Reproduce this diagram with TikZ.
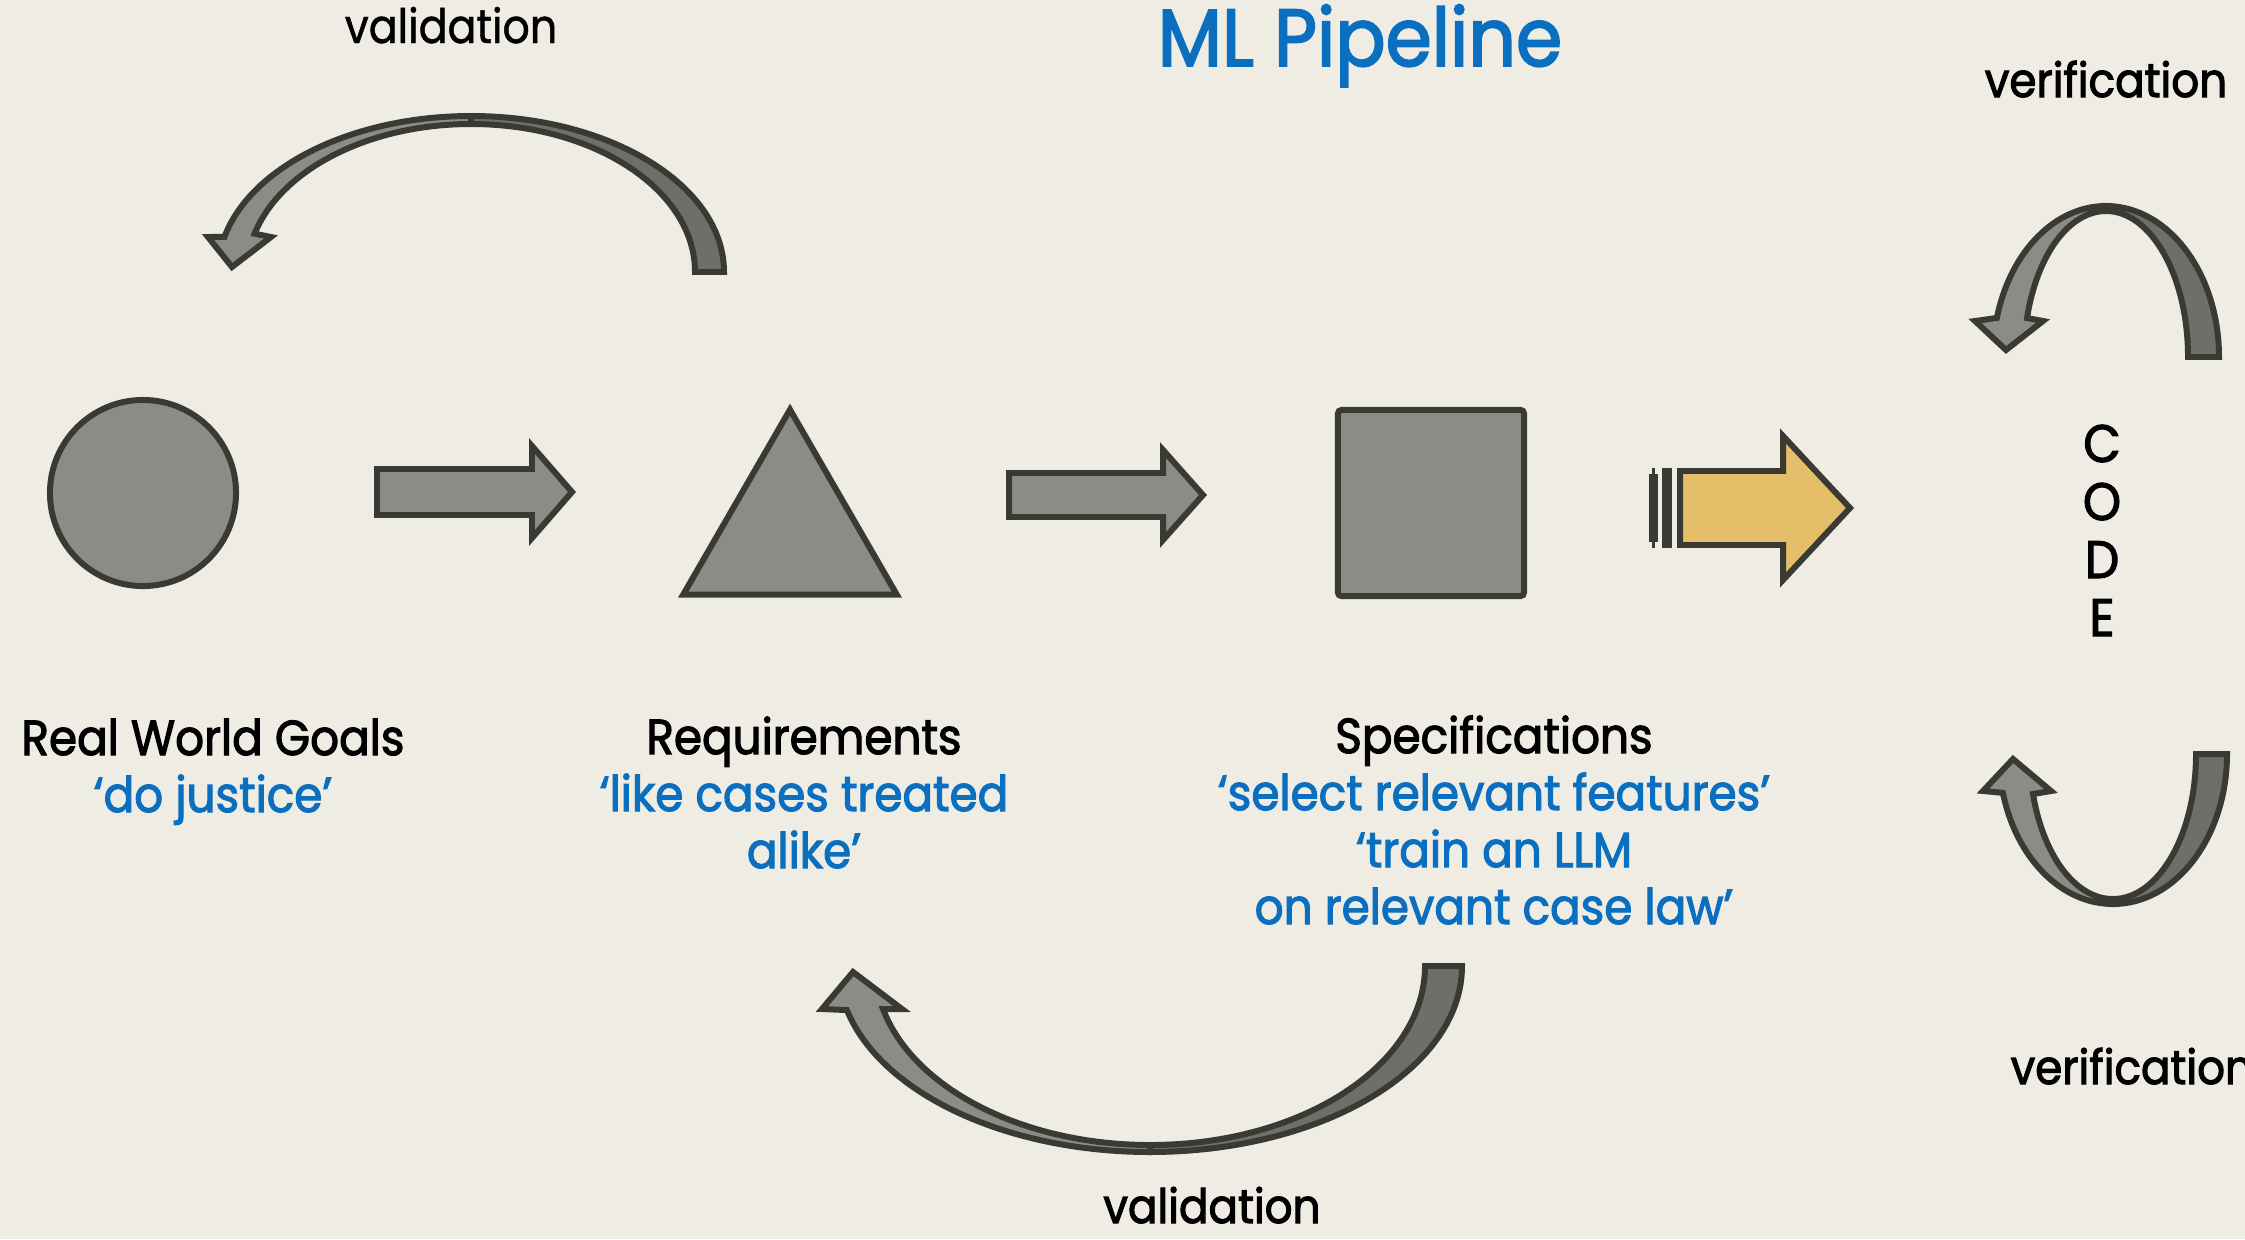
\documentclass[tikz,border=0pt]{standalone}
\usepackage{fontspec}
\setmainfont{Poppins}[FakeStretch=0.92, FakeBold=2.2]
\newfontfamily\bookfont{Poppins}[FakeStretch=0.9, FakeBold=1]
\usepackage{tikz}
\usetikzlibrary{positioning, shapes.geometric}

\definecolor{paper}{HTML}{EFECE4}
\definecolor{ink}{HTML}{393A33}
\definecolor{stone}{HTML}{8B8C85}
\definecolor{slate}{HTML}{6E6F68}
\definecolor{mlblue}{HTML}{0B6FC0}
\definecolor{gold}{HTML}{E4BE68}

\begin{document}
\begin{tikzpicture}[
    x=0.01cm, y=-0.01cm,
    shp/.style={draw=ink, fill=stone, line width=1.7pt, inner sep=0pt},
    blockarr/.style={draw=ink, fill=stone, line width=1.7pt},
    headhalf/.style={draw=ink, fill=stone, line width=1.7pt},
    tailhalf/.style={draw=ink, fill=slate, line width=1.7pt},
    lbl/.style={font=\fontsize{14}{16.2}\selectfont, align=center, anchor=base, inner sep=0pt},
    note/.style={font=\fontsize{13.5}{16}\selectfont, anchor=base, inner sep=0pt},
    codeltr/.style={font=\fontsize{15}{17}\selectfont, anchor=base, inner sep=0pt},
]
\clip (0,0) rectangle (2245,1239);
\fill[paper] (0,0) rectangle (2245,1239);

% title
\node[font=\fontsize{23}{26}\selectfont, text=mlblue, anchor=base, inner sep=0pt] (title) at (1360,66) {ML Pipeline};

% the three stages
\node[shp, circle, minimum size=1.86cm] (goals) at (143,493) {};
\node[shp, regular polygon, regular polygon sides=3, minimum size=2.466cm] (reqs) at (790,533) {};
\node[shp, rectangle, rounded corners=1pt, minimum size=1.86cm] (specs) at (1431,503) {};

% block arrows between stages
\draw[blockarr] (377,469) -- (532,469) -- (532,446) -- (572,492) -- (532,538) -- (532,515) -- (377,515) -- cycle;
\draw[blockarr] (1009,473) -- (1163,473) -- (1163,450) -- (1203,495) -- (1163,540) -- (1163,517) -- (1009,517) -- cycle;

% yellow arrow into code
\fill[ink] (1649,474) rectangle (1658,542);
\fill[ink] (1652,468) rectangle (1655,548);
\fill[ink] (1662,468) rectangle (1672,548);
\draw[blockarr, fill=gold] (1680,471) -- (1783,471) -- (1783,436) -- (1850,508) -- (1783,580) -- (1783,545) -- (1680,545) -- cycle;

% labels (anchored on the last line)
\node[lbl] (goalstxt) at (213,812) {Real World Goals\\\textcolor{mlblue}{‘do justice’}};
\node[lbl] (reqstxt) at (804,868) {Requirements\\\textcolor{mlblue}{‘like cases treated}\\\textcolor{mlblue}{alike’}};
\node[lbl] (specstxt) at (1494,924) {Specifications\\\textcolor{mlblue}{‘select relevant features’}\\\textcolor{mlblue}{‘train an LLM}\\\textcolor{mlblue}{on relevant case law’}};

% CODE
\foreach \ch [count=\i] in {C,O,D,E}
  \node[codeltr] (code\i) at (2102,404+58*\i) {\ch};

% validation loop, top
\draw[tailhalf] (724,272) arc[start angle=0, end angle=-90, x radius=253, y radius=156]
  -- (471,124) arc[start angle=-90, end angle=0, x radius=224, y radius=148] -- cycle;
\draw[headhalf] (471,116) arc[start angle=-90, end angle=-167, x radius=253, y radius=156]
  -- (208,237) -- (232,267) -- (271,237) -- (254.6,233.7)
  arc[start angle=-165, end angle=-90, x radius=224, y radius=148] -- cycle;
\node[note, font=\bookfont\fontsize{13.5}{16}\selectfont] (valtop) at (451,43) {validation};

% validation loop, bottom
\draw[tailhalf] (1462,966) arc[start angle=0, end angle=90, x radius=312, y radius=186]
  -- (1150,1145) arc[start angle=90, end angle=0, x radius=275, y radius=179] -- cycle;
\draw[headhalf] (1150,1152) arc[start angle=90, end angle=166.3, x radius=312, y radius=186]
  -- (822,1009) -- (853,972) -- (902,1009) -- (883,1009)
  arc[start angle=166.1, end angle=90, x radius=275, y radius=179] -- cycle;
\node[note] (valbot) at (1212,1223) {validation};

% verification loop, top
\draw[tailhalf] (2219,357) arc[start angle=0, end angle=-90, x radius=113, y radius=151]
  -- (2106,211) arc[start angle=-90, end angle=0, x radius=82, y radius=146] -- cycle;
\draw[headhalf] (2106,206) arc[start angle=-90, end angle=-165, x radius=113, y radius=151]
  -- (1975,321) -- (2006,350) -- (2043,321) -- (2027,318)
  arc[start angle=-164.5, end angle=-90, x radius=82, y radius=146] -- cycle;
\node[note] (vertop) at (2106,97) {verification};

% verification loop, bottom
\draw[tailhalf] (2227,754) arc[start angle=0, end angle=90, x radius=114, y radius=150]
  -- (2113,899) arc[start angle=90, end angle=0, x radius=83, y radius=145] -- cycle;
\draw[headhalf] (2113,904) arc[start angle=90, end angle=165, x radius=114, y radius=150]
  -- (1983,791) -- (2013,759) -- (2051,791) -- (2033,794)
  arc[start angle=164, end angle=90, x radius=83, y radius=145] -- cycle;
\node[note, anchor=base west] (verbot) at (2010,1084) {verification};

\end{tikzpicture}
\end{document}
